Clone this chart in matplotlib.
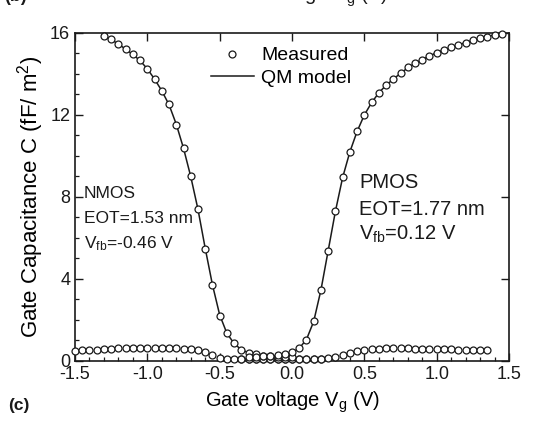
import numpy as np
import matplotlib.pyplot as plt
from matplotlib.lines import Line2D
from matplotlib.ticker import MultipleLocator

plt.rcParams["font.family"] = ["Liberation Sans", "DejaVu Sans"]
plt.rcParams["mathtext.default"] = "regular"

# measured C-V, upper branches (V, fF/um^2)
nmos_v = [-1.30, -1.25, -1.20, -1.15, -1.10, -1.05, -1.00, -0.95, -0.90, -0.85,
          -0.80, -0.75, -0.70, -0.65, -0.60, -0.55, -0.50, -0.45, -0.40, -0.35,
          -0.30, -0.25, -0.20, -0.15, -0.10, -0.05, 0.00]
nmos_c = [15.87, 15.69, 15.46, 15.20, 14.96, 14.67, 14.24, 13.74, 13.19, 12.52,
          11.51, 10.38, 9.02, 7.41, 5.46, 3.71, 2.21, 1.35, 0.86, 0.55,
          0.40, 0.32, 0.26, 0.23, 0.21, 0.20, 0.19]

pmos_v = [-0.30, -0.25, -0.20, -0.15, -0.10, -0.05, 0.00, 0.05, 0.10, 0.15,
          0.20, 0.25, 0.30, 0.35, 0.40, 0.45, 0.50, 0.55, 0.60, 0.65,
          0.70, 0.75, 0.80, 0.85, 0.90, 0.95, 1.00, 1.05, 1.10, 1.15,
          1.20, 1.25, 1.30, 1.35, 1.40, 1.45]
pmos_c = [0.20, 0.21, 0.22, 0.24, 0.27, 0.32, 0.42, 0.62, 1.02, 1.93,
          3.46, 5.38, 7.32, 8.96, 10.21, 11.22, 12.00, 12.62, 13.09, 13.46,
          13.74, 14.03, 14.33, 14.52, 14.68, 14.88, 15.04, 15.17, 15.30, 15.41,
          15.53, 15.66, 15.74, 15.82, 15.90, 15.97]

# measured, lower branches
nmos_low_v = [-1.50, -1.45, -1.40, -1.35, -1.30, -1.25, -1.20, -1.15, -1.10, -1.05,
              -1.00, -0.95, -0.90, -0.85, -0.80, -0.75, -0.70, -0.65, -0.60, -0.55,
              -0.50, -0.45, -0.40, -0.35, -0.30, -0.25, -0.20, -0.15, -0.10, -0.05,
              0.00, 0.05, 0.10, 0.15, 0.20]
nmos_low_c = [0.48, 0.52, 0.54, 0.56, 0.58, 0.60, 0.61, 0.62, 0.63, 0.63,
              0.63, 0.63, 0.63, 0.62, 0.61, 0.60, 0.58, 0.53, 0.42, 0.27,
              0.16, 0.12, 0.11, 0.10, 0.10, 0.10, 0.10, 0.10, 0.10, 0.10,
              0.10, 0.10, 0.10, 0.10, 0.10]

pmos_low_v = [-0.35, -0.30, -0.25, -0.20, -0.15, -0.10, -0.05, 0.00, 0.05, 0.10,
              0.15, 0.20, 0.25, 0.30, 0.35, 0.40, 0.45, 0.50, 0.55, 0.60,
              0.65, 0.70, 0.75, 0.80, 0.85, 0.90, 0.95, 1.00, 1.05, 1.10,
              1.15, 1.20, 1.25, 1.30, 1.35]
pmos_low_c = [0.12, 0.12, 0.12, 0.12, 0.12, 0.12, 0.12, 0.12, 0.12, 0.12,
              0.12, 0.12, 0.13, 0.18, 0.29, 0.41, 0.50, 0.56, 0.59, 0.60,
              0.61, 0.61, 0.61, 0.61, 0.60, 0.60, 0.59, 0.59, 0.58, 0.57,
              0.56, 0.56, 0.55, 0.54, 0.53]

# QM model curves
model_n_v = nmos_v
model_n_c = [15.85, 15.68, 15.46, 15.21, 14.95, 14.65, 14.25, 13.75, 13.18, 12.50,
             11.55, 10.38, 9.00, 7.40, 5.50, 3.72, 2.25, 1.35, 0.85, 0.55,
             0.40, 0.31, 0.26, 0.23, 0.21, 0.20, 0.19]
model_p_v = pmos_v
model_p_c = [0.20, 0.21, 0.22, 0.24, 0.27, 0.32, 0.42, 0.62, 1.05, 1.93,
             3.46, 5.38, 7.30, 8.95, 10.20, 11.20, 12.00, 12.60, 13.08, 13.45,
             13.75, 14.03, 14.30, 14.52, 14.70, 14.88, 15.04, 15.18, 15.30, 15.42,
             15.53, 15.64, 15.74, 15.83, 15.91, 15.98]

ink = "#1a1a1a"

fig = plt.figure(figsize=(5.6, 4.24), dpi=100)
ax = fig.add_axes([75 / 560, 0.1486, 434 / 560, 0.7736])

mk = dict(ls="none", marker="o", ms=5.0, mfc="white", mec=ink, mew=0.9, clip_on=False, zorder=3)
ax.plot(model_n_v, model_n_c, color=ink, lw=1.1, zorder=2)
ax.plot(model_p_v, model_p_c, color=ink, lw=1.1, zorder=2)
ax.plot(nmos_low_v, nmos_low_c, **mk)
ax.plot(pmos_low_v, pmos_low_c, **mk)
ax.plot(nmos_v, nmos_c, **mk)
ax.plot(pmos_v, pmos_c, **mk)

ax.set_xlim(-1.5, 1.5)
ax.set_ylim(0, 16)
ax.xaxis.set_major_locator(MultipleLocator(0.5))
ax.xaxis.set_minor_locator(MultipleLocator(0.1))
ax.yaxis.set_major_locator(MultipleLocator(4))
ax.yaxis.set_minor_locator(MultipleLocator(1))
ax.xaxis.set_major_formatter(plt.FuncFormatter(lambda v, p: f"{v:.1f}"))
ax.tick_params(which="both", direction="in", colors=ink, labelsize=13, top=True, right=True, pad=3.5)
ax.tick_params(which="major", length=6, width=1.0)
ax.tick_params(which="minor", length=3, width=0.9, top=False, right=False)
for s in ax.spines.values():
    s.set_color(ink)
    s.set_linewidth(1.2)

ax.set_xlabel("Gate voltage V$_g$ (V)", fontsize=14.5, labelpad=5)
ax.set_ylabel("Gate Capacitance C (fF/ m$^2$)", fontsize=16, labelpad=3)

handles = [Line2D([], [], ls="none", marker="o", ms=5.0, mfc="white", mec=ink, mew=0.9),
           Line2D([], [], color=ink, lw=1.1)]
ax.legend(handles, ["Measured", "QM model"], loc="upper left", bbox_to_anchor=(0.313, 0.958),
          frameon=False, fontsize=14, handlelength=2.2, handletextpad=0.4,
          labelspacing=0.25, borderpad=0, borderaxespad=0)

ax.text(-1.44, 7.93, "NMOS", fontsize=12.5, color=ink)
ax.text(-1.44, 6.71, "EOT=1.53 nm", fontsize=12.5, color=ink)
ax.text(-1.44, 5.49, "V$_{fb}$=-0.46 V", fontsize=12.5, color=ink)
ax.text(0.465, 8.46, "PMOS", fontsize=14.5, color=ink)
ax.text(0.465, 7.13, "EOT=1.77 nm", fontsize=14.5, color=ink)
ax.text(0.465, 5.94, "V$_{fb}$=0.12 V", fontsize=14.5, color=ink)

# panel labels (the ones from the panel above are cut off by the crop)
fig.text(0.008, 1 - 1 / 424, "(b)", fontsize=13, fontweight="bold", color=ink)
fig.text(300 / 560, 1 - 1 / 424, "Gate voltage V$_g$ (V)", fontsize=14.5, ha="center", color=ink)
fig.text(0.015, 1 - 410 / 424, "(c)", fontsize=12.5, fontweight="bold", color=ink)

fig.savefig("out.png", dpi=100)
